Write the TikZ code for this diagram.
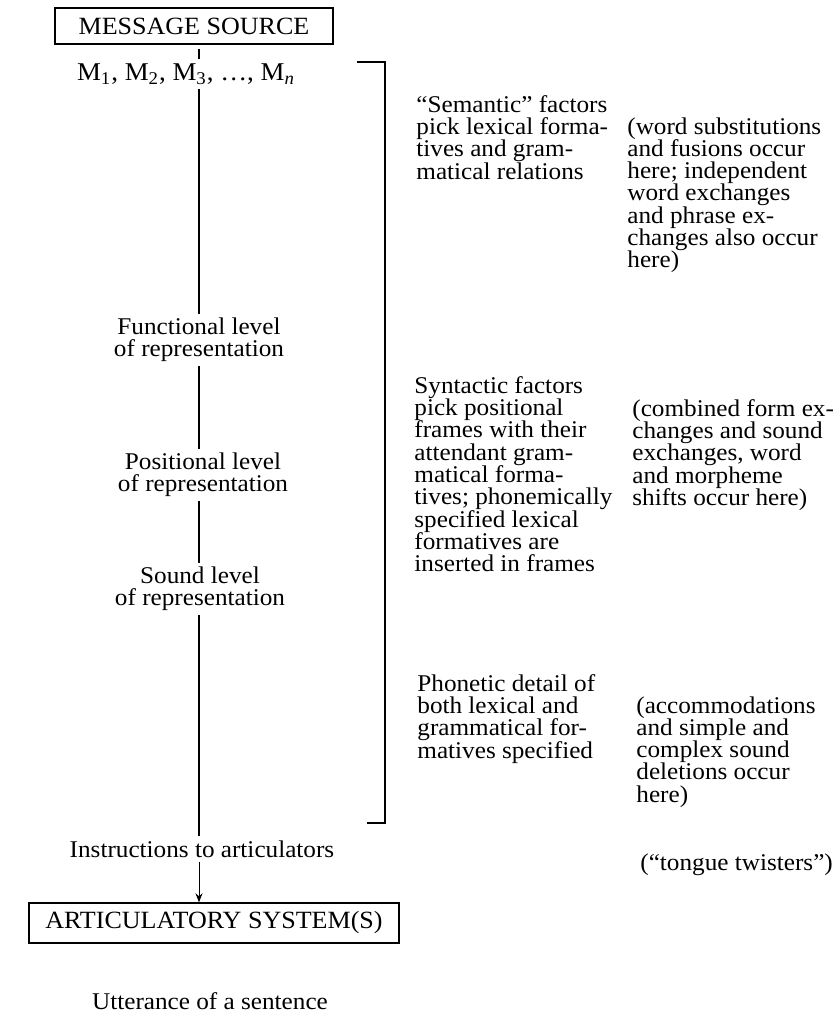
\documentclass[tikz,border=0pt]{standalone}
\usepackage{fontspec}
\setmainfont{Liberation Serif}[FakeStretch=1.05]
\usetikzlibrary{arrows.meta}
\newcommand\mainfs{\fontsize{12}{11.15}\selectfont}
\newcommand\boxfs{\fontsize{12.4}{13}\selectfont}
\tikzset{
  blk/.style={inner sep=0pt, align=left, anchor=north west, font=\mainfs},
  ctr/.style={inner sep=0pt, align=center, font=\mainfs},
  sysbox/.style={draw, line width=0.7pt, inner sep=0pt, font=\boxfs},
  axisline/.style={line width=0.7pt, shorten <=2pt, shorten >=2pt},
  brk/.style={line width=0.7pt},
  tip/.style={line width=0.45pt, -{Stealth[length=4.5pt,width=3.5pt]}, shorten <=2pt}
}
\begin{document}
\begin{tikzpicture}[x=0.5pt,y=-0.5pt]
\useasboundingbox (0,0) rectangle (839,1021);
% boxes
\node[sysbox, minimum width=139pt, minimum height=18pt] (ms) at (194,26) {MESSAGE SOURCE};
\node[sysbox, minimum width=185pt, minimum height=20pt] (as) at (214,923) {ARTICULATORY SYSTEM(S)};
% axis labels
\node[ctr, font=\fontsize{12.8}{13}\selectfont] (m) at (186,74) {M\textsubscript{1}, M\textsubscript{2}, M\textsubscript{3}, \ldots, M\textsubscript{\itshape n}};
\node[ctr] (fl) at (199,340) {Functional level\\of representation};
\node[ctr] (pl) at (203,475) {Positional level\\of representation};
\node[ctr] (sl) at (200,589) {Sound level\\of representation};
\node[ctr] (ins) at (202,849) {Instructions to articulators};
\node[ctr] (utt) at (210,1001) {Utterance of a sentence};
\coordinate (ax) at (199,0);
% axis
\draw[axisline] (ms.south -| ax) -- (m.north -| ax);
\draw[axisline] (m.south -| ax) -- (fl.north -| ax);
\draw[axisline] (fl.south -| ax) -- (pl.north -| ax);
\draw[axisline] (pl.south -| ax) -- (sl.north -| ax);
\draw[axisline] (sl.south -| ax) -- (ins.north -| ax);
\draw[tip] (ins.south -| ax) -- (as.north -| ax);
% bracket
\coordinate (bt) at (357,62);
\coordinate (bb) at (367,823);
\draw[brk] (bt) -- (385,62) -- (385,823) -- (bb);
% middle column
\node[blk] (sem) at (416,95) {``Semantic'' factors\\pick lexical forma-\\tives and gram-\\matical relations};
\node[blk] (syn) at (414,376) {Syntactic factors\\pick positional\\frames with their\\attendant gram-\\matical forma-\\tives; phonemically\\specified lexical\\formatives are\\inserted in frames};
\node[blk] (pho) at (417,674) {Phonetic detail of\\both lexical and\\grammatical for-\\matives specified};
% right column
\node[blk] (wrd) at (627,117) {(word substitutions\\and fusions occur\\here; independent\\word exchanges\\and phrase ex-\\changes also occur\\here)};
\node[blk] (cmb) at (632,399) {(combined form ex-\\changes and sound\\exchanges, word\\and morpheme\\shifts occur here)};
\node[blk] (acc) at (636,696) {(accommodations\\and simple and\\complex sound\\deletions occur\\here)};
\node[blk] (tng) at (640,853) {(``tongue twisters'')};
\end{tikzpicture}
\end{document}
